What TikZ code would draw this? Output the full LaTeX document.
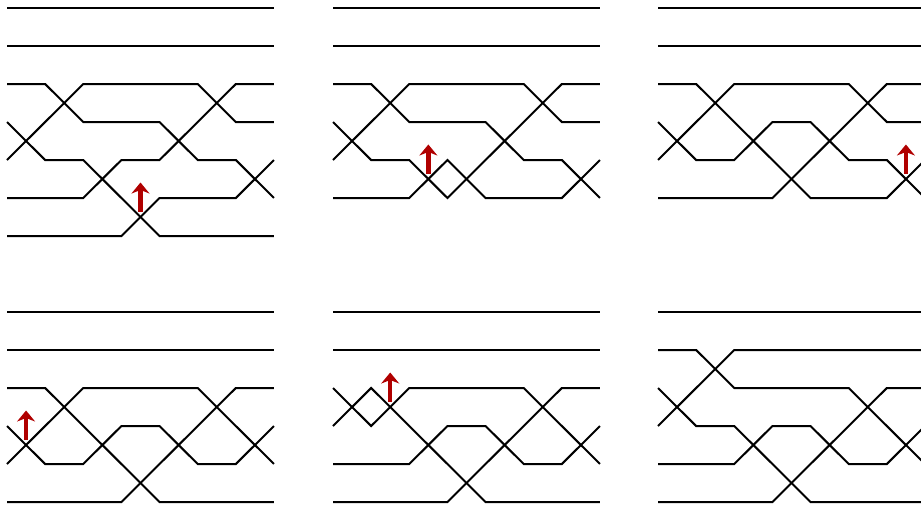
\documentclass[tikz,border=0pt]{standalone}
\usetikzlibrary{arrows.meta}
\definecolor{markred}{RGB}{176,0,0}
\tikzset{
  wire/.style={line width=2pt, black},
  marker/.style={line width=4.4pt, markred, -{Stealth[length=11pt,width=18pt,inset=3.5pt]}},
}
\newcommand{\mymark}[2]{\draw[marker] ([yshift=5.5pt]#1,#2) -- ([yshift=34.5pt]#1,#2);}
\begin{document}
\begin{tikzpicture}[x=38.14pt, y=-38pt]
\useasboundingbox (-7pt,8pt) rectangle (914pt,-499pt);
\clip (-7pt,8pt) rectangle (914pt,-499pt);
% ---------- panel 1 (top left) ----------
\begin{scope}
  \draw[wire] (0,0) -- (7,0);
  \draw[wire] (0,1) -- (7,1);
  \draw[wire] (0,2) -- (1,2) -- (2,3) -- (4,3) -- (5,4) -- (6,4) -- (7,5);
  \draw[wire] (0,3) -- (1,4) -- (2,4) -- (4,6) -- (7,6);
  \draw[wire] (0,4) -- (2,2) -- (5,2) -- (6,3) -- (7,3);
  \draw[wire] (0,5) -- (2,5) -- (3,4) -- (4,4) -- (6,2) -- (7,2);
  \draw[wire] (0,6) -- (3,6) -- (4,5) -- (6,5) -- (7,4);
  \mymark{3.5}{5.5}
\end{scope}
% ---------- panel 2 (top middle) ----------
\begin{scope}[xshift=326pt]
  \draw[wire] (0,0) -- (7,0);
  \draw[wire] (0,1) -- (7,1);
  \draw[wire] (0,2) -- (1,2) -- (2,3) -- (4,3) -- (5,4) -- (6,4) -- (7,5);
  \draw[wire] (0,3) -- (1,4) -- (2,4) -- (3,5) -- (6,2) -- (7,2);
  \draw[wire] (0,4) -- (2,2) -- (5,2) -- (6,3) -- (7,3);
  \draw[wire] (0,5) -- (2,5) -- (3,4) -- (4,5) -- (6,5) -- (7,4);
  \mymark{2.5}{4.5}
\end{scope}
% ---------- panel 3 (top right) ----------
\begin{scope}[xshift=651pt]
  \draw[wire] (0,0) -- (7,0);
  \draw[wire] (0,1) -- (7,1);
  \draw[wire] (0,2) -- (1,2) -- (4,5) -- (6,5) -- (7,4);
  \draw[wire] (0,3) -- (1,4) -- (2,4) -- (3,3) -- (4,3) -- (5,4) -- (6,4) -- (7,5);
  \draw[wire] (0,4) -- (2,2) -- (5,2) -- (6,3) -- (7,3);
  \draw[wire] (0,5) -- (3,5) -- (6,2) -- (7,2);
  \mymark{6.5}{4.5}
\end{scope}
% ---------- panel 4 (bottom left) ----------
\begin{scope}[yshift=-304pt]
  \draw[wire] (0,0) -- (7,0);
  \draw[wire] (0,1) -- (7,1);
  \draw[wire] (0,2) -- (1,2) -- (4,5) -- (7,5);
  \draw[wire] (0,3) -- (1,4) -- (2,4) -- (3,3) -- (4,3) -- (5,4) -- (6,4) -- (7,3);
  \draw[wire] (0,4) -- (2,2) -- (5,2) -- (7,4);
  \draw[wire] (0,5) -- (3,5) -- (6,2) -- (7,2);
  \mymark{0.5}{3.5}
\end{scope}
% ---------- panel 5 (bottom middle) ----------
\begin{scope}[xshift=326pt, yshift=-304pt]
  \draw[wire] (0,0) -- (7,0);
  \draw[wire] (0,1) -- (7,1);
  \draw[wire] (0,2) -- (1,3) -- (2,2) -- (5,2) -- (7,4);
  \draw[wire] (0,3) -- (1,2) -- (4,5) -- (7,5);
  \draw[wire] (0,4) -- (2,4) -- (3,3) -- (4,3) -- (5,4) -- (6,4) -- (7,3);
  \draw[wire] (0,5) -- (3,5) -- (6,2) -- (7,2);
  \mymark{1.5}{2.5}
\end{scope}
% ---------- panel 6 (bottom right) ----------
\begin{scope}[xshift=651pt, yshift=-304pt]
  \draw[wire] (0,0) -- (7,0);
  \draw[wire] (0,1) -- (1,1) -- (2,2) -- (5,2) -- (7,4);
  \draw[wire] (0,2) -- (1,3) -- (2,3) -- (4,5) -- (7,5);
  \draw[wire] (0,3) -- (2,1) -- (7,1);
  \draw[wire] (0,4) -- (2,4) -- (3,3) -- (4,3) -- (5,4) -- (6,4) -- (7,3);
  \draw[wire] (0,5) -- (3,5) -- (6,2) -- (7,2);
\end{scope}
\end{tikzpicture}
\end{document}
